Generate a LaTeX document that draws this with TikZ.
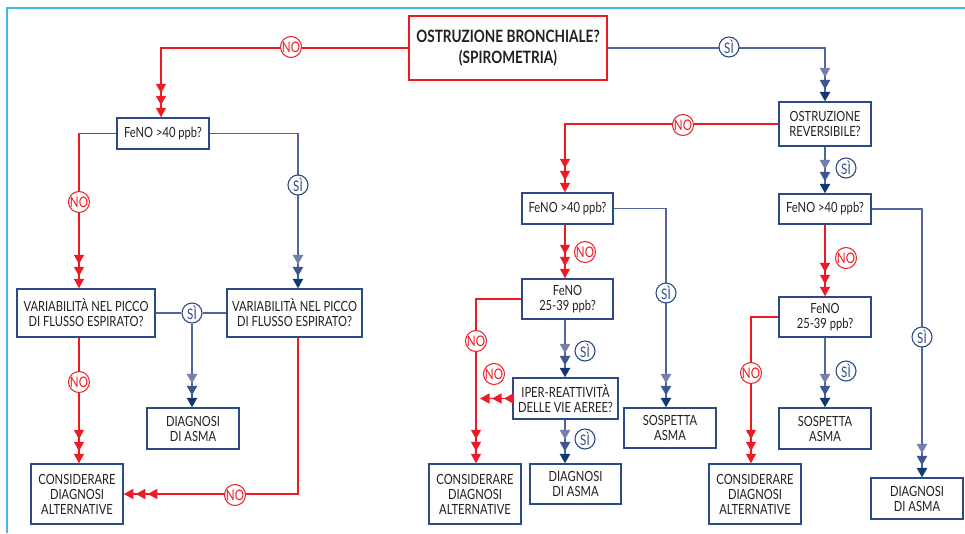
\documentclass[tikz,border=0pt]{standalone}
\usepackage{fontspec}
\setmainfont{Lato}[FakeStretch=0.8]
\usetikzlibrary{arrows.meta}
\definecolor{cRed}{HTML}{ED1C24}
\definecolor{cBox}{HTML}{2C4A86}
\definecolor{cLine}{HTML}{52669C}
\definecolor{cTa}{HTML}{7480AC}
\definecolor{cTb}{HTML}{3E5590}
\definecolor{cTc}{HTML}{123870}
\definecolor{cFrame}{HTML}{3BBBEA}
\definecolor{cText}{HTML}{231F20}
\tikzset{
  x=1pt, y=-1pt,
  box/.style={draw=cBox, line width=1.5pt, fill=white, align=center, inner sep=0pt,
    font=\fontsize{14}{15}\selectfont, text=cText},
  topbox/.style={draw=cRed, line width=2.6pt, fill=white, align=center, inner sep=0pt,
    font=\fontsize{17}{21}\selectfont\bfseries, text=cText},
  redln/.style={draw=cRed, line width=1.4pt},
  blueln/.style={draw=cLine, line width=1.4pt},
  rtri/.style={-{Triangle[length=9.5pt,width=10pt,sep=2.5pt,color=cRed]
                 Triangle[length=9.5pt,width=10pt,sep=2.5pt,color=cRed]
                 Triangle[length=9.5pt,width=10pt,color=cRed]}},
  btri/.style={-{Triangle[length=9.5pt,width=10.5pt,sep=2.5pt,color=cTa]
                 Triangle[length=9.5pt,width=10.5pt,sep=2.5pt,color=cTb]
                 Triangle[length=9.5pt,width=10.5pt,color=cTc]}},
  nolab/.style={circle, draw=cRed, line width=1pt, fill=white, text=cRed, inner sep=0pt,
    minimum size=20pt, font=\fontsize{14.5}{14.5}\selectfont},
  silab/.style={circle, draw=cBox, line width=1.1pt, fill=white, text=cBox, inner sep=0pt,
    minimum size=20pt, font=\fontsize{14.5}{14.5}\selectfont},
}
\begin{document}
\begin{tikzpicture}
\useasboundingbox (0,0) rectangle (965,533);
% frame
\draw[cFrame, line width=2.5pt] (7,533) -- (7,8) -- (965,8);

% boxes
\node[topbox, minimum width=198pt, minimum height=64pt] (top) at (508,48)
  {OSTRUZIONE BRONCHIALE?\\(SPIROMETRIA)};
\node[box, minimum width=92pt, minimum height=44pt] (rev) at (825,124)
  {OSTRUZIONE\\REVERSIBILE?};
\node[box, minimum width=92pt, minimum height=31pt] (fA) at (163,133.5) {FeNO >40 ppb?};
\node[box, minimum width=138pt, minimum height=48pt] (varL) at (86,313)
  {VARIABILITÀ NEL PICCO\\DI FLUSSO ESPIRATO?};
\node[box, minimum width=135pt, minimum height=48pt] (varR) at (294.5,313)
  {VARIABILITÀ NEL PICCO\\DI FLUSSO ESPIRATO?};
\node[box, minimum width=92pt, minimum height=41pt] (diagL) at (193,428.5)
  {DIAGNOSI\\DI ASMA};
\node[box, minimum width=92pt, minimum height=60pt] (consL) at (77,494)
  {CONSIDERARE\\DIAGNOSI\\ALTERNATIVE};

\node[box, minimum width=91pt, minimum height=31pt] (fM) at (567.5,208.5) {FeNO >40 ppb?};
\node[box, minimum width=91pt, minimum height=40pt] (f2M) at (567.5,299) {FeNO\\25-39 ppb?};
\node[box, minimum width=105pt, minimum height=41pt] (iper) at (565.5,398.5)
  {IPER-REATTIVITÀ\\DELLE VIE AEREE?};
\node[box, minimum width=91pt, minimum height=40pt] (diagM) at (575.5,484) {DIAGNOSI\\DI ASMA};
\node[box, minimum width=92pt, minimum height=60pt] (consM) at (475,494)
  {CONSIDERARE\\DIAGNOSI\\ALTERNATIVE};
\node[box, minimum width=92pt, minimum height=40pt] (sospM) at (670,428) {SOSPETTA\\ASMA};

\node[box, minimum width=92pt, minimum height=30pt] (fR) at (825,209) {FeNO >40 ppb?};
\node[box, minimum width=92pt, minimum height=40pt] (f2R) at (825,317) {FeNO\\25-39 ppb?};
\node[box, minimum width=92pt, minimum height=41pt] (sospR) at (825,428.5) {SOSPETTA\\ASMA};
\node[box, minimum width=92pt, minimum height=60pt] (consR) at (755,494)
  {CONSIDERARE\\DIAGNOSI\\ALTERNATIVE};
\node[box, minimum width=92pt, minimum height=41pt] (diagR) at (917,498.5) {DIAGNOSI\\DI ASMA};

\coordinate (mergeM) at (476,398.5);

% connectors
\draw[redln, rtri] (top.west) -| ([xshift=-2pt]fA.north);
\draw[blueln, btri] (top.east) -| (rev.north);
\draw[redln, rtri] (fA.west) -| ([xshift=-7pt]varL.north);
\draw[blueln, btri] (fA.east) -| ([xshift=3.5pt]varR.north);
\node[silab] (siC) at (192,313) {SÌ};
\draw[blueln] (varL.east) -- (siC) -- (varR.west);
\draw[blueln, btri] (siC.south) -- (siC.south |- diagL.north);
\draw[redln, rtri] ([xshift=-7pt]varL.south) -- ([xshift=-7pt]varL.south |- consL.north);
\draw[redln, rtri] ([xshift=3.5pt]varR.south) |- (consL.east);

\draw[redln, rtri] (rev.west) -| ([xshift=-2.5pt]fM.north);
\draw[blueln, btri] (rev.south) -- (fR.north);
\draw[redln, rtri] ([xshift=-2.5pt]fM.south) -- ([xshift=-2.5pt]f2M.north);
\draw[blueln, btri] (fM.east) -| ([xshift=-4pt]sospM.north);
\draw[redln, rtri] (f2M.west) -| ([xshift=1pt]consM.north);
\draw[blueln, btri] ([xshift=-2.5pt]f2M.south) -- ([xshift=-0.5pt]iper.north);
\draw[redln, rtri, shorten >=4pt] (iper.west) -- (mergeM);
\draw[blueln, btri] ([xshift=-0.5pt]iper.south) -- ([xshift=-10.5pt]diagM.north);

\draw[redln, rtri] (fR.south) -- (f2R.north);
\draw[blueln, btri] (fR.east) -| ([xshift=5pt]diagR.north);
\draw[redln, rtri] (f2R.west) -| ([xshift=-4pt]consR.north);
\draw[blueln, btri] (f2R.south) -- (sospR.north);

% labels
\node[nolab] (no1) at (291,47) {NO};
\node[silab] (si1) at (729,47) {SÌ};
\node[nolab] (no2) at (79,202) {NO};
\node[silab] (si2) at (298,185) {SÌ};
\node[nolab] (no3) at (79,382) {NO};
\node[nolab] (no4) at (235,495) {NO};
\node[nolab] (no5) at (683,125) {NO};
\node[silab] (si3) at (846,168) {SÌ};
\node[nolab] (no6) at (585,252) {NO};
\node[silab] (si4) at (666,293) {SÌ};
\node[nolab] (no7) at (476,341) {NO};
\node[silab] (si5) at (585,351) {SÌ};
\node[nolab] (no8) at (494,374) {NO};
\node[silab] (si6) at (585,439) {SÌ};
\node[nolab] (no9) at (846,258) {NO};
\node[silab] (si7) at (922,337) {SÌ};
\node[nolab] (no10) at (751,373) {NO};
\node[silab] (si8) at (846,371) {SÌ};
\end{tikzpicture}
\end{document}
